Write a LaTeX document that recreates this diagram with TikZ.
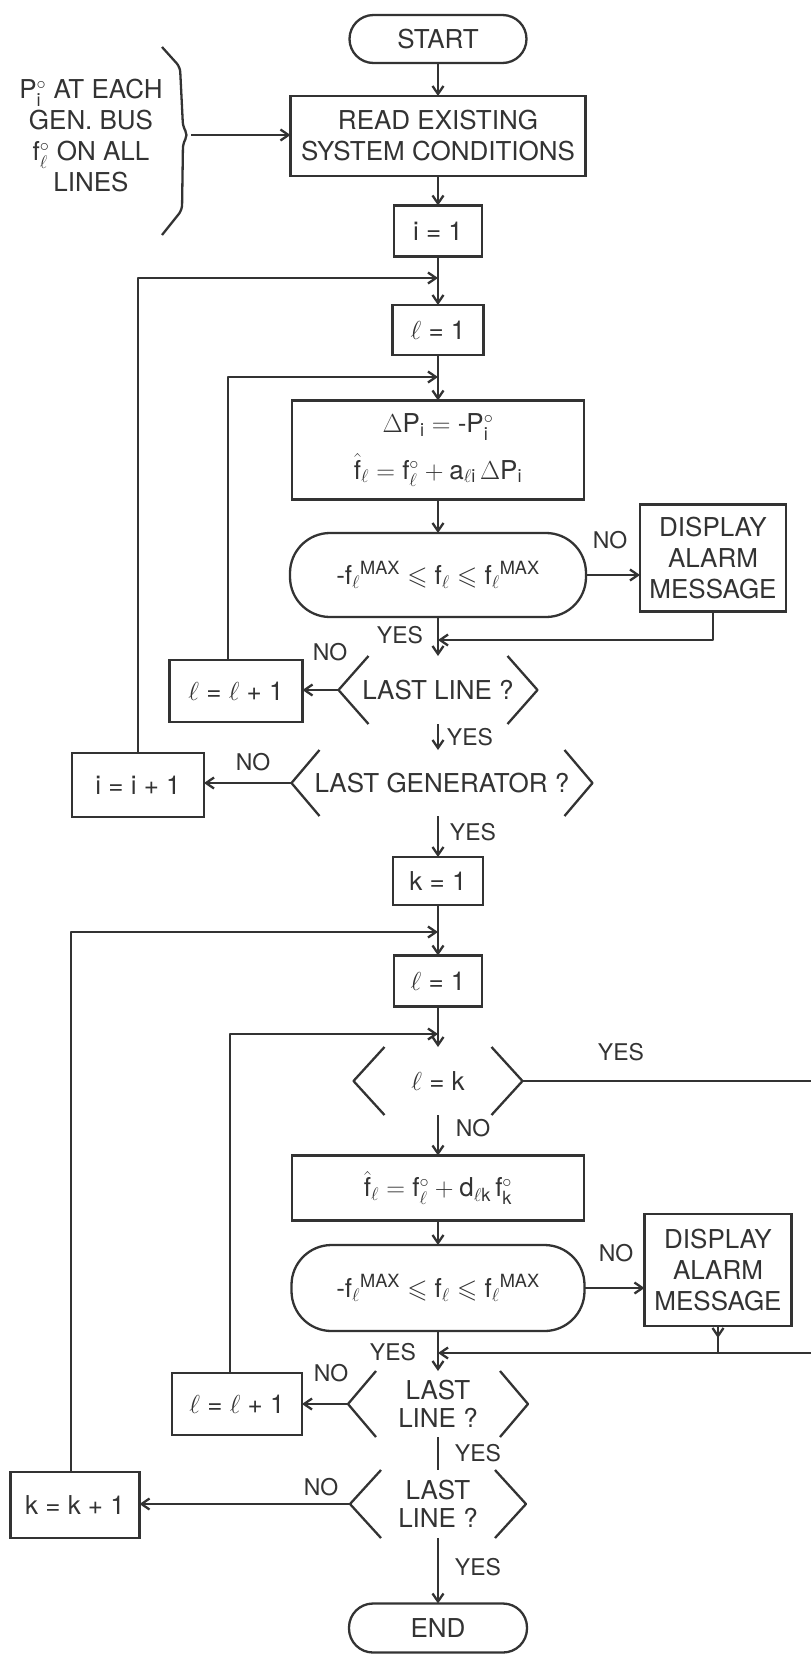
\documentclass[tikz,border=0pt]{standalone}
\usepackage{fix-cm}
\usepackage{amssymb}
\usepackage{fontspec}
\setmainfont{TeX Gyre Heros}
\setmathrm{TeX Gyre Heros}
\usetikzlibrary{arrows.meta}
\definecolor{ink}{HTML}{333333}
\newcommand{\txt}{\fontsize{26}{31}\selectfont}
\newcommand{\lab}{\fontsize{23}{26}\selectfont}
\newcommand{\hy}{\mbox{-}}
\newcommand{\chevs}[2]{%
  \draw[ln] ([xshift=#2]#1.north west) -- (#1.west) -- ([xshift=#2]#1.south west);
  \draw[ln] ([xshift=-#2]#1.north east) -- (#1.east) -- ([xshift=-#2]#1.south east);}
\begin{document}
\begin{tikzpicture}[x=1pt,y=-1pt,
  ln/.style={line width=2.3pt, draw=ink, line join=round},
  arr/.style={ln, -{Straight Barb[length=8pt,width=11pt]}},
  box/.style={draw=ink, line width=2.3pt, inner sep=2pt, outer sep=0pt, align=center, text=ink, font=\txt},
  pill/.style={box, rounded corners=#1},
  dec/.style={inner sep=0pt, outer sep=0pt, align=center, text=ink, font=\txt},
  lab/.style={text=ink, font=\lab, inner sep=0pt}]
\useasboundingbox (0,0) rectangle (811,1655);
\def\cx{438}
% input
\node[dec] (inp) at (91,136) {$\mathrm{P}_{\mathrm{i}}^{\circ}$ AT EACH\\GEN. BUS\\$\mathrm{f}_{\ell}^{\circ}$ ON ALL\\LINES};
\draw[ln, rounded corners=5pt] (162,47) -- (180,67) -- (183,127) -- (188,135) -- (183,143) -- (182,210) -- (162,235);
\coordinate (btip) at (191,135);
% main column
\node[pill=24pt, minimum width=177, minimum height=48] (start) at (\cx,39) {START};
\node[box, minimum width=295, minimum height=80] (read) at (\cx,136) {READ EXISTING\\SYSTEM CONDITIONS};
\node[box, minimum width=88, minimum height=51] (i1) at (\cx,231) {i = 1};
\node[box, minimum width=91, minimum height=50] (l1) at (\cx,330) {$\ell$ = 1};
\node[box, minimum width=292, minimum height=99] (dp) at (\cx,450) {$\Delta\mathrm{P}_{\mathrm{i}} = \hy\mathrm{P}_{\mathrm{i}}^{\circ}$\\[12pt]$\hat{\mathrm{f}}_{\ell} = \mathrm{f}_{\ell}^{\circ} + \mathrm{a}_{\ell\mathrm{i}}\,\Delta\mathrm{P}_{\mathrm{i}}$};
\node[pill=40pt, minimum width=296, minimum height=84] (c1) at (\cx,575) {$\hy\mathrm{f}_{\ell}{}^{\mathrm{MAX}} \leqslant \mathrm{f}_{\ell} \leqslant \mathrm{f}_{\ell}{}^{\mathrm{MAX}}$};
\node[box, minimum width=146, minimum height=107] (al1) at (713,558) {DISPLAY\\ALARM\\MESSAGE};
\node[dec, minimum width=199, minimum height=68] (d1) at (\cx,690) {LAST LINE ?};
\node[box, minimum width=133, minimum height=62] (inc1) at (236,691) {$\ell$ = $\ell$ + 1};
\node[dec, minimum width=301, minimum height=66] (d2) at (442,783) {LAST GENERATOR ?};
\node[box, minimum width=132, minimum height=64] (ii) at (138,785) {i = i + 1};
\node[box, minimum width=90, minimum height=48] (k1) at (\cx,881) {k = 1};
\node[box, minimum width=88, minimum height=51] (l2) at (\cx,981) {$\ell$ = 1};
\node[dec, minimum width=169, minimum height=68] (d3) at (\cx,1081) {$\ell$ = k};
\node[box, minimum width=292, minimum height=65] (fb) at (\cx,1188) {$\hat{\mathrm{f}}_{\ell} = \mathrm{f}_{\ell}^{\circ} + \mathrm{d}_{\ell\mathrm{k}}\,\mathrm{f}_{\mathrm{k}}^{\circ}$};
\node[pill=40pt, minimum width=293, minimum height=86] (c2) at (\cx,1288) {$\hy\mathrm{f}_{\ell}{}^{\mathrm{MAX}} \leqslant \mathrm{f}_{\ell} \leqslant \mathrm{f}_{\ell}{}^{\mathrm{MAX}}$};
\node[box, minimum width=147, minimum height=112] (al2) at (718,1270) {DISPLAY\\ALARM\\MESSAGE};
\node[dec, minimum width=180, minimum height=66] (d4) at (\cx,1404) {LAST\\[-3pt]LINE ?};
\node[box, minimum width=130, minimum height=62] (inc2) at (237,1404) {$\ell$ = $\ell$ + 1};
\node[dec, minimum width=176, minimum height=68] (d5) at (\cx,1504) {LAST\\[-3pt]LINE ?};
\node[box, minimum width=129, minimum height=66] (kk) at (75,1505) {k = k + 1};
\node[pill=24pt, minimum width=178, minimum height=49] (end) at (\cx,1628) {END};
% chevrons
\chevs{d1}{30}
\chevs{d2}{28}
\chevs{d3}{31}
\chevs{d4}{28}
\chevs{d5}{31}
% junction coordinates
\coordinate (j1) at (\cx,278);
\coordinate (j2) at (\cx,377);
\coordinate (m1) at (\cx,640);
\coordinate (j3) at (\cx,932);
\coordinate (j4) at (\cx,1034);
\coordinate (m2) at (\cx,1353);
\coordinate (rb) at (840,1353);
% labels
\node[lab] (no1) at (610,540) {NO};
\node[lab] (yes1) at (400,635) {YES};
\node[lab] (no2) at (330,652) {NO};
\node[lab] (yes2) at (470,737) {YES};
\node[lab] (no3) at (253,762) {NO};
\node[lab] (yes3) at (473,832) {YES};
\node[lab] (yes4) at (621,1052) {YES};
\node[lab] (no4) at (473,1128) {NO};
\node[lab] (no5) at (616,1253) {NO};
\node[lab] (yes5) at (393,1352) {YES};
\node[lab] (no6) at (331,1373) {NO};
\node[lab] (yes6) at (478,1453) {YES};
\node[lab] (no7) at (321,1487) {NO};
\node[lab] (yes7) at (478,1567) {YES};
% connectors
\draw[arr] (btip) -- (btip -| read.west);
\draw[arr] (start) -- (read);
\draw[arr] (read) -- (i1);
\draw[arr] (i1) -- (l1);
\draw[arr] (l1) -- (dp);
\draw[arr] (dp) -- (c1);
\draw[arr] (c1) -- (d1);
\draw[arr] (d1) -- (d1.south |- d2.north);
\draw[arr] (d2.south -| k1.north) -- (k1.north);
\draw[arr] (k1) -- (l2);
\draw[arr] (l2) -- (d3);
\draw[arr] (d3) -- (fb);
\draw[arr] (fb) -- (c2);
\draw[arr] (c2) -- (d4);
\draw[ln] (d4) -- (d5);
\draw[arr] (d5) -- (end);
\draw[arr] (c1.east) -- (c1.east -| al1.west);
\draw[arr] (al1.south) |- (m1);
\draw[arr] (d1.west) -- (d1.west -| inc1.east);
\draw[arr] (d2.west) -- (d2.west -| ii.east);
\draw[arr] (ii.north) |- (j1);
\draw[arr] ([xshift=-8]inc1.north) |- (j2);
\draw[arr] ([xshift=-4]kk.north) |- (j3);
\draw[arr] ([xshift=-7]inc2.north) |- (j4);
\draw[arr] (d3.east) -| (rb) -- (m2);
\draw[ln] (al2.south) -- (al2.south |- m2);
\draw[arr] (al2.south) -- ++(0,12);
\draw[arr] (c2.east) -- (c2.east -| al2.west);
\draw[arr] (d4.west) -- (d4.west -| inc2.east);
\draw[arr] (d5.west) -- (d5.west -| kk.east);
\end{tikzpicture}
\end{document}
